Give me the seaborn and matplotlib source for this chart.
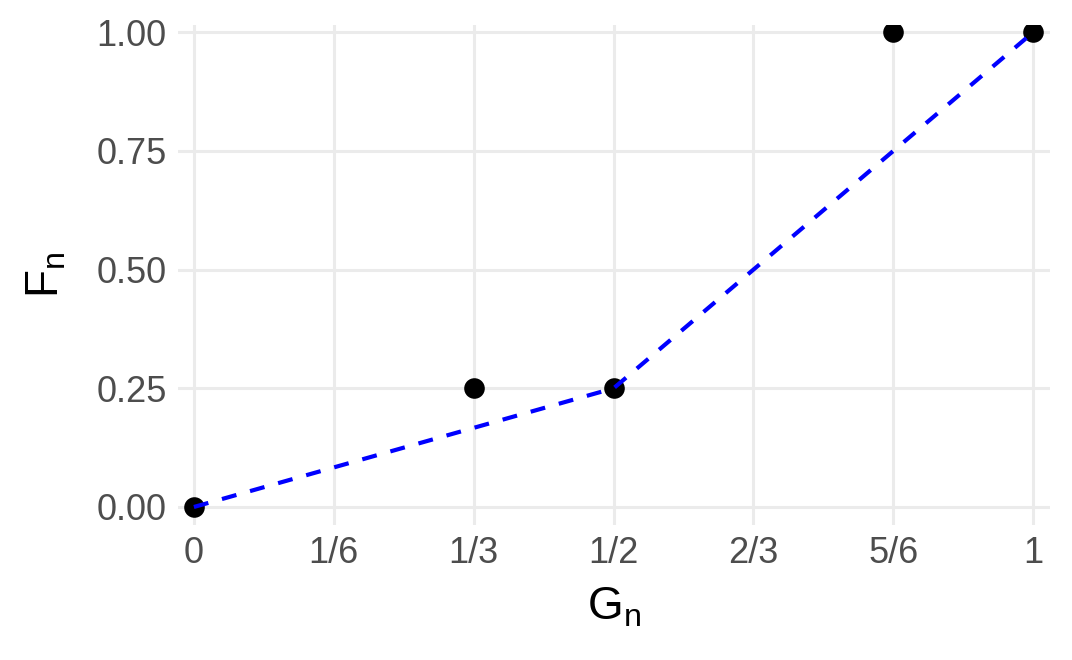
import matplotlib
matplotlib.use('Agg')
import matplotlib.pyplot as plt
import seaborn as sns
import pandas as pd

# data
pts_x = [0, 1/3, 1/2, 5/6, 1]
pts_y = [0.00, 0.25, 0.25, 1.00, 1.00]
line_x = [0, 1/2, 1]
line_y = [0.00, 0.25, 1.00]
x_ticks = [0, 1/6, 1/3, 1/2, 2/3, 5/6, 1]
x_labels = ['0', '1/6', '1/3', '1/2', '2/3', '5/6', '1']
y_ticks = [0.00, 0.25, 0.50, 0.75, 1.00]
y_labels = ['0.00', '0.25', '0.50', '0.75', '1.00']

pts = pd.DataFrame({'G': pts_x, 'F': pts_y})
ln = pd.DataFrame({'G': line_x, 'F': line_y})

sns.set_style('white')
plt.rcParams['font.family'] = ['Liberation Sans', 'DejaVu Sans']

fig = plt.figure(figsize=(10.72, 6.6), dpi=100)
ax = fig.add_axes([0.166, 0.2045, 0.8135, 0.7575])

sns.scatterplot(data=pts, x='G', y='F', ax=ax, color='black', s=220,
                edgecolor='black', linewidth=0, zorder=3)
sns.lineplot(data=ln, x='G', y='F', ax=ax, color='#0000FF', linewidth=3.0,
             dashes=False, zorder=4)
ax.lines[-1].set_dashes((3.6, 3.4))

ax.set_xlim(-0.019, 1.02)
ax.set_ylim(-0.038, 1.015)
ax.set_xticks(x_ticks)
ax.set_xticklabels(x_labels)
ax.set_yticks(y_ticks)
ax.set_yticklabels(y_labels)

ax.grid(True, color='#EBEBEB', linewidth=2.2, zorder=0)
ax.set_axisbelow(True)
for s in ax.spines.values():
    s.set_visible(False)
ax.tick_params(axis='both', length=0, labelsize=26, labelcolor='#4D4D4D', pad=8)

ax.set_xlabel(r'$\mathregular{G_n}$', fontsize=33, color='black', labelpad=10)
ax.set_ylabel(r'$\mathregular{F_n}$', fontsize=33, color='black', labelpad=20)

fig.savefig('out.png', dpi=100)
